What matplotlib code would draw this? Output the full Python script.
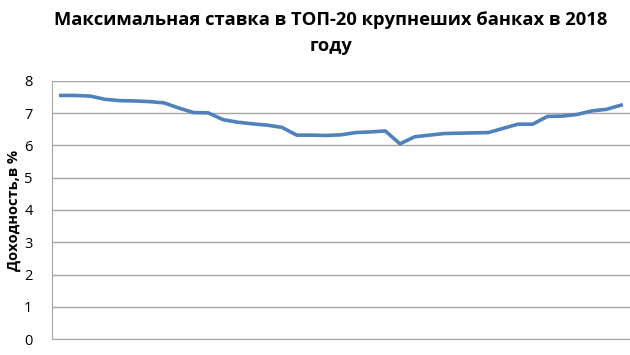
import matplotlib
matplotlib.use("Agg")
import matplotlib.pyplot as plt

title = "Максимальная ставка в ТОП-20 крупнеших банках в 2018\nгоду"
ylabel = "Доходность,в %"
yticks = [0, 1, 2, 3, 4, 5, 6, 7, 8]
values = [7.55, 7.55, 7.53, 7.43, 7.39, 7.38, 7.36, 7.32, 7.16, 7.02,
          7.01, 6.80, 6.72, 6.67, 6.63, 6.56, 6.32, 6.32, 6.31, 6.33,
          6.40, 6.42, 6.45, 6.05, 6.27, 6.32, 6.37, 6.38, 6.39, 6.40,
          6.53, 6.66, 6.66, 6.90, 6.91, 6.96, 7.07, 7.12, 7.25]
x = list(range(len(values)))

plt.rcParams['font.family'] = ['Open Sans', 'DejaVu Sans']
fig = plt.figure(figsize=(6.3, 3.55), dpi=100)
ax = fig.add_axes([0.0825, 0.045, 0.9175, 0.727])
ax.plot(x, values, color="#4F81BD", linewidth=2.6, solid_joinstyle="round")
ax.set_xlim(-0.6, len(values) - 0.4)
ax.set_ylim(0, 8)
ax.set_yticks(yticks)
ax.set_yticklabels([str(t) for t in yticks], fontsize=10.5)
ax.set_xticks([])
ax.grid(axis="y", color="#A6A6A6", linewidth=1)
ax.set_axisbelow(True)
for s in ["top", "right"]:
    ax.spines[s].set_visible(False)
ax.spines["left"].set_color("#A6A6A6")
ax.spines["bottom"].set_color("#A6A6A6")
ax.tick_params(axis="y", length=0, pad=14)
ax.set_ylabel(ylabel, fontsize=10.5, fontweight="bold", labelpad=2)
fig.text(0.525, 0.968, title, ha="center", va="top", fontsize=13.2,
         fontweight="bold", linespacing=1.55)
fig.savefig("out.png", dpi=100)
